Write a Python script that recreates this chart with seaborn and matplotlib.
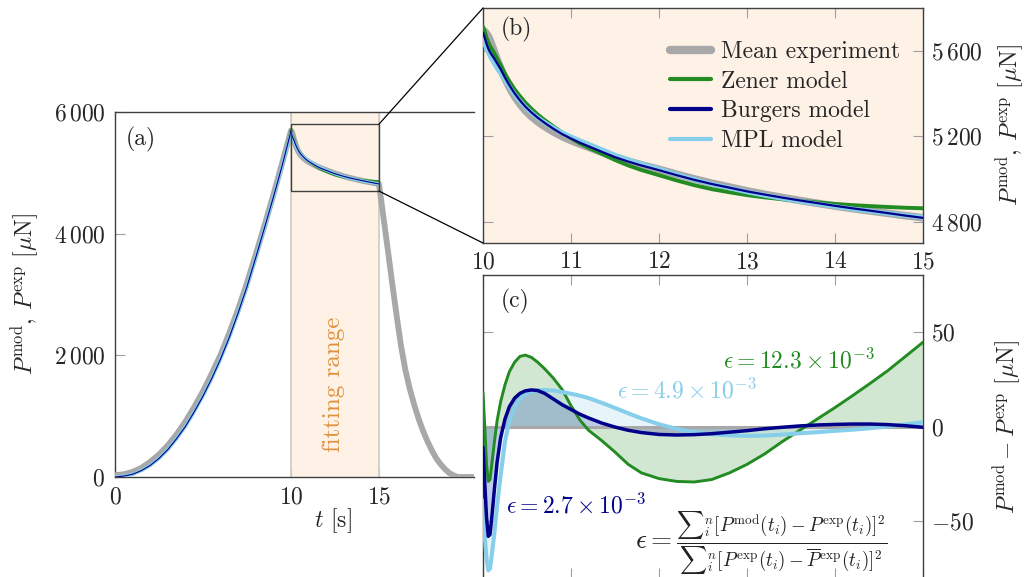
import matplotlib
matplotlib.use("Agg")
import matplotlib.pyplot as plt
import numpy as np
import seaborn as sns
from matplotlib.patches import ConnectionPatch, Rectangle

# ---- data ------------------------------------------------------------------
# loading ramp (panel a)
t_ramp = [0, 0.5, 1, 1.5, 2, 2.5, 3, 3.5, 4, 4.5,
          5, 5.5, 6, 6.5, 7, 7.5, 8, 8.5, 9, 9.5]
p_exp_ramp = [30, 45, 85, 150, 250, 370, 520, 700, 910, 1150,
              1410, 1700, 2010, 2370, 2760, 3190, 3660, 4140, 4640, 5160]
p_mod_ramp = [0, 15, 45, 105, 190, 305, 450, 630, 830, 1070,
              1330, 1620, 1940, 2300, 2700, 3130, 3610, 4100, 4600, 5120]

# holding / fitting range
t_fit = [10.0, 10.02, 10.04, 10.06, 10.08, 10.1, 10.13, 10.16, 10.2, 10.25,
         10.3, 10.36, 10.42, 10.48, 10.55, 10.62, 10.7, 10.8, 10.9, 11.0,
         11.1, 11.2, 11.35, 11.5, 11.65, 11.8, 12.0, 12.2, 12.4, 12.6,
         12.8, 13.0, 13.2, 13.4, 13.6, 13.8, 14.0, 14.2, 14.4, 14.6,
         14.8, 15.0]
p_exp_fit = [5695, 5690, 5680, 5668, 5650, 5628, 5595, 5560, 5520, 5470,
             5428, 5385, 5350, 5320, 5292, 5268, 5245, 5220, 5198, 5180,
             5163, 5148, 5125, 5102, 5083, 5066, 5045, 5022, 5000, 4980,
             4962, 4944, 4928, 4913, 4899, 4886, 4873, 4861, 4850, 4839,
             4828, 4818]

# residuals P_mod - P_exp (panel c)
res_zener = [18, 0, -20, -29, -28, -20, -8, 3, 13, 22,
             29, 34, 37, 37.7, 36.5, 34, 30.5, 25.5, 19.5, 11,
             3.5, -2, -7.5, -13.5, -20, -24.5, -27.5, -29, -29.3, -28,
             -24.5, -20, -14.5, -8, -2, 4, 10, 16.3, 22.8, 29.5,
             37, 44.5]
res_burgers = [-11, -30, -48, -58, -57, -48, -33, -19, -6, 4,
               10.5, 15, 17.5, 18.8, 19.3, 19, 17.5, 14.5, 11.5, 9,
               6.5, 4.5, 1.8, -0.3, -2, -3.2, -4.2, -4.5, -4.3, -3.8,
               -3, -2.2, -1.2, -0.4, 0.3, 0.8, 1.1, 1.3, 1.3, 1,
               0.4, -0.4]
res_mpl = [-39, -58, -70, -76, -75, -68, -56, -42, -26, -8,
           3, 10, 14.5, 17, 18.5, 19.1, 19.3, 19, 18.2, 17.3,
           16.3, 15, 12.5, 9.8, 7, 4.3, 1.2, -1.3, -3, -4.1,
           -4.7, -5, -4.8, -4.3, -3.6, -3, -2.3, -1.7, -0.9, 0,
           1.1, 2.3]

# unloading (experiment only)
t_unload = [15.25, 15.5, 15.75, 16.0, 16.25, 16.5, 16.75, 17.0, 17.25, 17.5,
            17.75, 18.0, 18.25, 18.5, 18.75, 19.0, 19.25, 19.5, 20.4]
p_exp_unload = [4280, 3740, 3190, 2660, 2160, 1760, 1450, 1190, 960, 760,
                590, 440, 310, 210, 130, 65, 25, 0, 0]

eps_labels = {"Zener": "12.3", "Burgers": "2.7", "MPL": "4.9"}

# ---- style ------------------------------------------------------------------
sns.set_theme(style="white")
plt.rcParams["font.family"] = "serif"
plt.rcParams["font.serif"] = ["cmr10", "DejaVu Serif"]
plt.rcParams["mathtext.fontset"] = "cm"
plt.rcParams["axes.formatter.use_mathtext"] = True
plt.rcParams["axes.unicode_minus"] = False

C_EXP = "#a8a8a8"
C_ZEN = "#228b22"
C_BUR = "#00008b"
C_MPL = "#87ceeb"
PEACH = "#fef2e7"
FS = 17

p_exp_fit_a = np.array(p_exp_fit, dtype=float)
p_zener = p_exp_fit_a + np.array(res_zener)
p_burgers = p_exp_fit_a + np.array(res_burgers)
p_mpl = p_exp_fit_a + np.array(res_mpl)

W, H = 1027, 577
fig = plt.figure(figsize=(W / 100, H / 100), dpi=100)


def box(left, top, right, bottom):
    return [left / W, 1 - bottom / H, (right - left) / W, (bottom - top) / H]


def style_axes(ax):
    for sp in ax.spines.values():
        sp.set_color("#404040")
        sp.set_linewidth(1.0)
    ax.tick_params(direction="in", length=7, width=0.8, color="#a0a0a0",
                   labelsize=FS, top=True, bottom=True, left=True, right=True,
                   pad=7)
    ax.grid(False)


def line(ax, x, y, color, lw, z=3):
    sns.lineplot(x=x, y=y, ax=ax, color=color, lw=lw, estimator=None,
                 sort=False, zorder=z, legend=False)


ax_a = fig.add_axes(box(115, 112, 474, 477))
ax_b = fig.add_axes(box(483, 8, 923, 243))
ax_c = fig.add_axes(box(483, 275, 923, 578))

# ---- panel (a) --------------------------------------------------------------
style_axes(ax_a)
ax_a.spines["right"].set_visible(False)
ax_a.tick_params(right=False)
ax_a.axvspan(10, 15, color=PEACH, lw=0, zorder=0)
ax_a.axvline(10, color="#d6cdc5", lw=1.3, zorder=1)
ax_a.axvline(15, color="#d6cdc5", lw=1.3, zorder=1)

t_full = t_ramp + t_fit + t_unload
line(ax_a, t_full, p_exp_ramp + p_exp_fit + p_exp_unload, C_EXP, 4.2)
t_mod = t_ramp + t_fit
line(ax_a, t_mod, p_mod_ramp + list(p_zener), C_ZEN, 1.6)
line(ax_a, t_mod, p_mod_ramp + list(p_mpl), C_MPL, 2.4)
line(ax_a, t_mod, p_mod_ramp + list(p_burgers), C_BUR, 0.8)

ax_a.add_patch(Rectangle((10, 4700), 5, 1100, fill=False, ec="#404040",
                         lw=1.0, zorder=4))
ax_a.text(12.45, 1530, "fitting range", rotation=90, color="#e0913e",
          fontsize=18, ha="center", va="center")
ax_a.text(0.03, 0.96, "(a)", transform=ax_a.transAxes, fontsize=FS,
          ha="left", va="top")

ax_a.set_xlim(0, 20.4)
ax_a.set_ylim(0, 6000)
ax_a.set_xticks([0, 10, 15])
ax_a.set_xticklabels(["$0$", "$10$", "$15$"])
ax_a.set_yticks([0, 2000, 4000, 6000])
ax_a.set_yticklabels(["$0$", r"$2\,000$", r"$4\,000$", r"$6\,000$"])
ax_a.set_xlabel(r"$t$ [s]", fontsize=FS)
ax_a.xaxis.set_label_coords(0.607, -0.08)
ax_a.set_ylabel(r"$P^{\rm mod}$, $P^{\rm exp}$ [$\mu$N]", fontsize=FS)
ax_a.yaxis.set_label_coords(-0.205, 0.5)

# ---- panel (b) --------------------------------------------------------------
style_axes(ax_b)
ax_b.set_facecolor(PEACH)
line(ax_b, t_fit, p_exp_fit, C_EXP, 5.5)
line(ax_b, t_fit, p_zener, C_ZEN, 2.8)
line(ax_b, t_fit, p_mpl, C_MPL, 3.4)
line(ax_b, t_fit, p_burgers, C_BUR, 1.6)
handles = [plt.Line2D([], [], color=c, lw=w) for c, w in
           [(C_EXP, 6), (C_ZEN, 3), (C_BUR, 3), (C_MPL, 3)]]
ax_b.legend(handles, ["Mean experiment", "Zener model", "Burgers model",
                      "MPL model"],
            loc="upper right", bbox_to_anchor=(0.97, 0.9), frameon=False,
            fontsize=FS, handlelength=1.7, handletextpad=0.45,
            labelspacing=0.32, borderaxespad=0)
ax_b.text(0.04, 0.96, "(b)", transform=ax_b.transAxes, fontsize=FS,
          ha="left", va="top")
ax_b.set_xlim(10, 15)
ax_b.set_ylim(4700, 5800)
ax_b.set_xticks([10, 11, 12, 13, 14, 15])
ax_b.set_xticklabels([f"${v}$" for v in [10, 11, 12, 13, 14, 15]])
ax_b.set_yticks([4800, 5200, 5600])
ax_b.set_yticklabels([r"$4\,800$", r"$5\,200$", r"$5\,600$"])
ax_b.tick_params(labelleft=False, labelright=True, pad=6)
ax_b.yaxis.set_label_position("right")
ax_b.set_ylabel(r"$P^{\rm mod}$, $P^{\rm exp}$ [$\mu$N]", fontsize=FS)
ax_b.yaxis.set_label_coords(1.162, 0.5)

con_top = ConnectionPatch(xyA=(15, 5800), coordsA=ax_a.transData,
                          xyB=(10, 5800), coordsB=ax_b.transData,
                          color="black", lw=0.9)
con_bot = ConnectionPatch(xyA=(15, 4700), coordsA=ax_a.transData,
                          xyB=(10, 4700), coordsB=ax_b.transData,
                          color="black", lw=0.9)
fig.add_artist(con_top)
fig.add_artist(con_bot)

# ---- panel (c) --------------------------------------------------------------
style_axes(ax_c)
ax_c.set_facecolor("white")
ax_c.fill_between(t_fit, res_zener, 0, color=C_ZEN, alpha=0.2, lw=0)
ax_c.fill_between(t_fit, res_burgers, 0, color=C_BUR, alpha=0.2, lw=0)
ax_c.fill_between(t_fit, res_mpl, 0, color=C_MPL, alpha=0.2, lw=0)
ax_c.axhline(0, color=C_EXP, lw=2.2, zorder=2)
line(ax_c, t_fit, res_zener, C_ZEN, 2.1)
line(ax_c, t_fit, res_mpl, C_MPL, 2.9)
line(ax_c, t_fit, res_burgers, C_BUR, 2.5)

ax_c.text(13.59, 34.6, rf"$\epsilon = {eps_labels['Zener']}\times 10^{{-3}}$",
          color=C_ZEN, fontsize=FS, ha="center", va="center")
ax_c.text(12.32, 18.8, rf"$\epsilon = {eps_labels['MPL']}\times 10^{{-3}}$",
          color=C_MPL, fontsize=FS, ha="center", va="center")
ax_c.text(10.26, -42, rf"$\epsilon = {eps_labels['Burgers']}\times 10^{{-3}}$",
          color=C_BUR, fontsize=FS, ha="left", va="center")
ax_c.text(13.16, -62,
          r"$\epsilon = \frac{{\sum}_i^n [P^{\rm mod}(t_i) - P^{\rm exp}(t_i)]^2}"
          r"{{\sum}_i^n [P^{\rm exp}(t_i) - \overline{P}^{\rm exp}(t_i)]^2}$",
          color="#222222", fontsize=19.5, ha="center", va="center")
ax_c.text(0.04, 0.955, "(c)", transform=ax_c.transAxes, fontsize=FS,
          ha="left", va="top")
ax_c.set_xlim(10, 15)
ax_c.set_ylim(-80, 80)
ax_c.set_xticks([10, 11, 12, 13, 14, 15])
ax_c.set_yticks([-50, 0, 50])
ax_c.set_yticklabels(["$-50$", "$0$", "$50$"])
ax_c.tick_params(labelbottom=False, labelleft=False, labelright=True, pad=6)
ax_c.yaxis.set_label_position("right")
ax_c.set_ylabel(r"$P^{\rm mod} - P^{\rm exp}$ [$\mu$N]", fontsize=FS)
ax_c.yaxis.set_label_coords(1.155, 0.5)
ax_c.set_xlabel("")
ax_b.set_xlabel("")

fig.savefig("out.png", dpi=100)
